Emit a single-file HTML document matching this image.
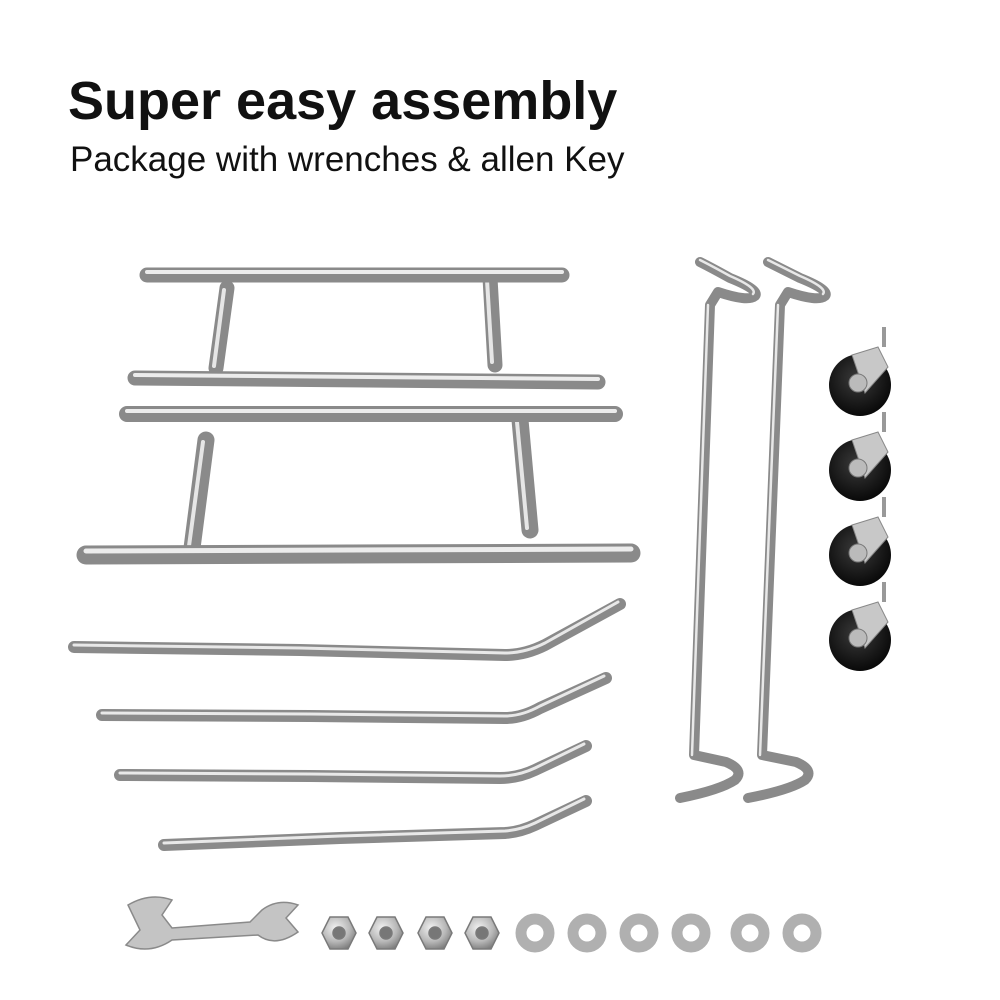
<!DOCTYPE html>
<html><head><meta charset="utf-8"><style>
html,body{margin:0;padding:0;background:#fff;width:1000px;height:1000px;overflow:hidden}
svg{display:block}
</style></head><body>
<svg width="1000" height="1000" viewBox="0 0 1000 1000" xmlns="http://www.w3.org/2000/svg">
<defs>
<radialGradient id="nut" cx="0.4" cy="0.35" r="0.7"><stop offset="0" stop-color="#f2f2f2"/><stop offset="0.6" stop-color="#b8b8b8"/><stop offset="1" stop-color="#7c7c7c"/></radialGradient>
<radialGradient id="wheel" cx="0.45" cy="0.4" r="0.65"><stop offset="0" stop-color="#3a3a3a"/><stop offset="1" stop-color="#050505"/></radialGradient>
</defs>
<text x="68" y="119" font-family="Liberation Sans, sans-serif" font-weight="bold" font-size="54" fill="#111">Super easy assembly</text>
<text x="70" y="171" font-family="Liberation Sans, sans-serif" font-size="35" fill="#111">Package with wrenches &amp; allen Key</text>

<g fill="none" stroke-linecap="round" stroke-linejoin="round">
 <path d="M227 288 L216 368" stroke="#8a8a8a" stroke-width="15"/><path d="M224 290 L214 366" stroke="#e6e6e6" stroke-width="4"/>
 <path d="M490 278 L495 365" stroke="#8a8a8a" stroke-width="15"/><path d="M487 280 L492 362" stroke="#e6e6e6" stroke-width="4"/>
 <path d="M147 275 L562 275" stroke="#8a8a8a" stroke-width="15"/><path d="M147 272 L562 272" stroke="#ececec" stroke-width="4"/>
 <path d="M135 378 L598 382" stroke="#8a8a8a" stroke-width="15"/><path d="M135 375 L598 379" stroke="#ececec" stroke-width="4"/>
 <path d="M206 440 L192 548" stroke="#8a8a8a" stroke-width="17"/><path d="M203 442 L189 546" stroke="#e6e6e6" stroke-width="4"/>
 <path d="M520 420 L530 530" stroke="#8a8a8a" stroke-width="17"/><path d="M517 422 L527 528" stroke="#e6e6e6" stroke-width="4"/>
 <path d="M127 414 L615 414" stroke="#8a8a8a" stroke-width="16"/><path d="M127 411 L615 411" stroke="#ececec" stroke-width="4"/>
 <path d="M86 555 L631 553" stroke="#8a8a8a" stroke-width="19"/><path d="M86 551 L631 549" stroke="#ececec" stroke-width="5"/>

<path d="M74 647 L300 650 L505 655 Q525 655 545 645 L620 604" stroke="#8a8a8a" stroke-width="12"/>
<path d="M74 645 L300 648 L505 653 Q525 653 545 643 L618 602" stroke="#e8e8e8" stroke-width="3"/>
<path d="M102 715 L310 716 L505 718 Q522 718 540 708 L606 678" stroke="#8a8a8a" stroke-width="12"/>
<path d="M102 713 L310 714 L505 716 Q522 716 540 706 L604 676" stroke="#e8e8e8" stroke-width="3"/>
<path d="M120 775 L310 776 L500 778 Q518 778 535 770 L586 746" stroke="#8a8a8a" stroke-width="12"/>
<path d="M120 773 L310 774 L500 776 Q518 776 535 768 L584 744" stroke="#e8e8e8" stroke-width="3"/>
<path d="M164 845 L340 838 L505 833 Q520 832 535 825 L586 801" stroke="#8a8a8a" stroke-width="12"/>
<path d="M164 843 L340 836 L505 831 Q520 830 535 823 L584 799" stroke="#e8e8e8" stroke-width="3"/>

<path d="M700 262 Q712 268 730 278 Q760 290 755 296 Q748 302 718 292 L710 305 L694 755 L726 762 Q745 770 735 780 Q720 790 680 798" stroke="#8a8a8a" stroke-width="10"/>
<path d="M700 260 Q712 266 730 276 Q758 288 753 294 M708 305 L692 755" stroke="#e8e8e8" stroke-width="2.5"/>
<path d="M768 262 Q780 268 800 278 Q830 290 825 296 Q818 302 788 292 L780 305 L762 755 L796 762 Q815 770 805 780 Q790 790 748 798" stroke="#8a8a8a" stroke-width="10"/>
<path d="M768 260 Q780 266 800 276 Q828 288 823 294 M778 305 L760 755" stroke="#e8e8e8" stroke-width="2.5"/>
</g>

<g>
 <g transform="translate(860,385)"><circle r="31" fill="url(#wheel)"/><path d="M-8 -30 L18 -38 L28 -18 L5 8 Z" fill="#c8c8c8" stroke="#888"/><circle cx="-2" cy="-2" r="9" fill="#bbb" stroke="#777"/><rect x="22" y="-58" width="4" height="20" fill="#999"/></g>
 <g transform="translate(860,470)"><circle r="31" fill="url(#wheel)"/><path d="M-8 -30 L18 -38 L28 -18 L5 8 Z" fill="#c8c8c8" stroke="#888"/><circle cx="-2" cy="-2" r="9" fill="#bbb" stroke="#777"/><rect x="22" y="-58" width="4" height="20" fill="#999"/></g>
 <g transform="translate(860,555)"><circle r="31" fill="url(#wheel)"/><path d="M-8 -30 L18 -38 L28 -18 L5 8 Z" fill="#c8c8c8" stroke="#888"/><circle cx="-2" cy="-2" r="9" fill="#bbb" stroke="#777"/><rect x="22" y="-58" width="4" height="20" fill="#999"/></g>
 <g transform="translate(860,640)"><circle r="31" fill="url(#wheel)"/><path d="M-8 -30 L18 -38 L28 -18 L5 8 Z" fill="#c8c8c8" stroke="#888"/><circle cx="-2" cy="-2" r="9" fill="#bbb" stroke="#777"/><rect x="22" y="-58" width="4" height="20" fill="#999"/></g>
</g>

<path d="M128 905 Q150 892 172 900 L162 915 L172 928 L250 922 L262 910 Q278 898 298 905 L286 918 L298 932 Q275 948 258 935 L172 940 Q150 955 126 945 L140 930 Z" fill="#c4c4c4" stroke="#8a8a8a" stroke-width="1.5"/>

<g stroke="#7a7a7a" stroke-width="1.5">
 <polygon points="322,933 330,917 348,917 356,933 348,949 330,949" fill="url(#nut)"/><circle cx="339" cy="933" r="6" fill="#777"/>
 <polygon points="369,933 377,917 395,917 403,933 395,949 377,949" fill="url(#nut)"/><circle cx="386" cy="933" r="6" fill="#777"/>
 <polygon points="418,933 426,917 444,917 452,933 444,949 426,949" fill="url(#nut)"/><circle cx="435" cy="933" r="6" fill="#777"/>
 <polygon points="465,933 473,917 491,917 499,933 491,949 473,949" fill="url(#nut)"/><circle cx="482" cy="933" r="6" fill="#777"/>
</g>
<g fill="none" stroke="#b0b0b0" stroke-width="11">
 <circle cx="535" cy="933" r="14"/><circle cx="587" cy="933" r="14"/><circle cx="639" cy="933" r="14"/>
 <circle cx="691" cy="933" r="14"/><circle cx="750" cy="933" r="14"/><circle cx="802" cy="933" r="14"/>
</g>
</svg>
</body></html>
